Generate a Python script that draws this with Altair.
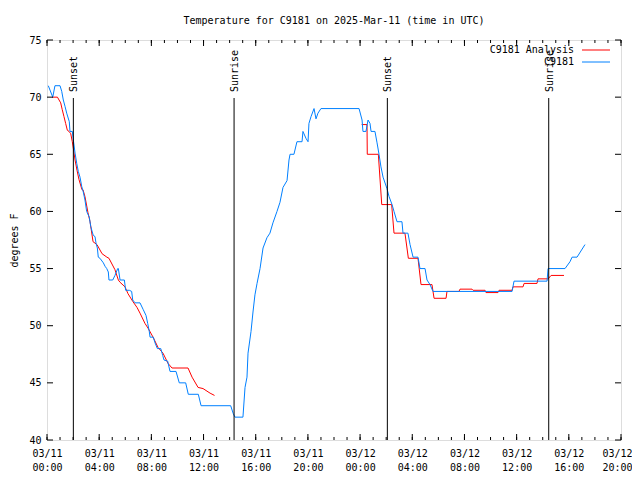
import altair as alt
import pandas as pd

# Observed (C9181) : hours since 03/11 00:00 UTC, temperature F
obs_hours = [0.10, 0.44, 0.61, 1.00, 1.13, 1.25, 1.38, 1.51, 1.71, 1.76, 1.94, 2.02, 2.15, 2.28, 2.40,
             2.53, 2.66, 2.78, 2.91, 3.04, 3.24, 3.35, 3.47, 3.55, 3.68, 3.76, 3.86, 3.93, 4.06, 4.32,
             4.45, 4.58, 4.70, 4.75, 5.04, 5.21, 5.42, 5.47, 5.60, 5.93, 6.03, 6.31, 6.49, 6.57, 6.75,
             7.13, 7.38, 7.59, 7.72, 7.84, 7.90, 8.15, 8.28, 8.46, 8.72, 8.87, 8.97, 9.25, 9.43, 9.89,
             10.14, 10.63, 10.83, 11.60, 11.81, 14.08, 14.28, 14.41, 15.02, 15.18, 15.33, 15.41, 15.64,
             15.79, 15.94, 16.10, 16.33, 16.56, 16.86, 17.09, 17.32, 17.63, 17.86, 18.09, 18.40, 18.55,
             18.63, 18.93, 19.16, 19.55, 19.62, 19.85, 20.01, 20.08, 20.24, 20.47, 20.62, 20.77, 21.00,
             23.92, 24.15, 24.22, 24.45, 24.61, 24.76, 24.84, 25.14, 25.30, 25.45, 25.60, 25.76, 26.06,
             26.22, 26.45, 26.60, 26.83, 27.21, 27.29, 27.67, 27.83, 28.06, 28.44, 28.59, 28.98, 29.13,
             29.36, 29.59, 35.65, 35.80, 38.33, 38.41, 39.71, 40.09, 40.25, 40.63, 41.24]
obs_temps = [71.0, 70.0, 71.0, 71.0, 70.5, 69.75, 69.2, 68.6, 67.85, 67.0, 67.0, 66.25, 65.1, 64.2, 63.5,
             63.0, 62.2, 61.7, 61.0, 60.0, 59.5, 58.7, 58.2, 57.9, 57.8, 57.2, 56.8, 56.0, 55.9, 55.5,
             55.2, 55.0, 54.7, 54.0, 54.0, 54.4, 55.0, 55.0, 54.0, 54.0, 53.1, 53.1, 53.0, 52.25, 52.0,
             52.0, 51.4, 50.9, 50.2, 49.5, 49.0, 49.0, 48.5, 48.0, 48.0, 47.4, 47.0, 46.9, 46.0, 46.0,
             45.0, 45.0, 44.0, 44.0, 43.0, 43.0, 42.3, 42.0, 42.0, 44.6, 45.5, 47.6, 49.5,
             51.2, 52.7, 53.7, 55.0, 56.8, 57.7, 58.1, 59.0, 60.0, 60.8, 62.1, 62.7, 64.5,
             65.0, 65.0, 66.1, 66.1, 67.0, 66.4, 66.1, 67.7, 68.3, 69.0, 68.1, 68.6, 69.0,
             69.0, 68.0, 67.0, 67.0, 68.0, 67.7, 67.0, 67.0, 66.0, 65.0, 63.9, 63.0, 62.0,
             61.3, 60.6, 60.0, 59.1, 59.1, 58.1, 58.1, 57.1, 56.0, 56.0, 55.0, 55.0, 54.0,
             53.6, 53.0, 53.0, 53.9, 53.9, 55.0, 55.0, 55.6, 56.0, 56.0, 57.1]

# Analysis (C9181 Analysis): two segments
ana_hours = [0.38, 0.80, 1.05, 1.17, 1.30, 1.43, 1.56, 1.69, 1.82, 1.94, 2.02, 2.15, 2.30, 2.45, 2.68,
             2.76, 2.91, 3.14, 3.30, 3.53, 3.83, 4.22, 4.59, 4.75, 4.98, 5.21, 5.47, 5.60, 5.98, 6.21,
             6.59, 6.90, 7.13, 7.51, 7.74, 8.13, 8.51, 8.89, 9.28, 9.58, 10.81, 11.12, 11.58, 11.96,
             12.50, 12.84,
             24.12, 24.53, 24.55, 25.40, 25.66, 26.42, 26.60, 27.44, 27.70, 28.44, 28.67, 29.51, 29.67,
             30.59, 30.66, 31.58, 31.66, 32.58, 32.66, 33.58, 33.65, 34.57, 34.65, 35.65, 35.72, 36.49,
             36.57, 37.56, 37.64, 38.41, 38.64, 39.63]
ana_temps = [70.0, 70.0, 69.5, 68.9, 68.3, 67.7, 67.1, 67.0, 66.8, 66.1, 65.5, 64.5, 63.6, 62.8, 61.9,
             61.9, 61.3, 59.9, 59.1, 57.35, 57.1, 56.3, 56.0, 55.9, 55.4, 54.9, 54.0, 53.8, 53.4, 52.8,
             52.1, 51.6, 51.1, 50.2, 49.8, 49.0, 48.1, 47.6, 46.7, 46.3, 46.3, 45.5, 44.6, 44.5,
             44.1, 43.9,
             67.6, 67.6, 65.0, 65.0, 60.6, 60.6, 58.1, 58.1, 55.9, 55.9, 53.6, 53.6, 52.4,
             52.4, 53.0, 53.0, 53.2, 53.2, 53.1, 53.1, 52.9, 52.9, 53.1, 53.1, 53.4, 53.4,
             53.7, 53.7, 54.1, 54.1, 54.4, 54.4]
ana_segments = [1] * 46 + [2] * 32

sun_hours = [2.02, 14.34, 26.09, 38.46]
sun_labels = ["Sunset", "Sunrise", "Sunset", "Sunrise"]

x_major = list(range(0, 45, 4))
x_minor = list(range(0, 45))
y_ticks = [40, 45, 50, 55, 60, 65, 70, 75]

legend_names = ["C9181 Analysis", "C9181"]
legend_colors = ["#ff0000", "#0080ff"]

FONT = "DejaVu Sans Mono"
W, H = 574, 400
RED, BLUE = legend_colors

obs = pd.DataFrame({"h": obs_hours, "t": obs_temps})
ana = pd.DataFrame({"h": ana_hours, "t": ana_temps, "seg": ana_segments})
sun = pd.DataFrame({"h": sun_hours, "label": sun_labels})
xmaj = pd.DataFrame({"h": x_major})
xmin = pd.DataFrame({"h": x_minor})
yt = pd.DataFrame({"t": y_ticks})

xs = alt.Scale(domain=[0, 44], nice=False, zero=False)
ys = alt.Scale(domain=[40, 75], nice=False, zero=False)

label_expr = ("[datum.value < 24 ? '03/11' : '03/12', "
              "(datum.value % 24 < 10 ? '0' : '') + (datum.value % 24) + ':00']")

x_axis = alt.Axis(values=x_major, labelExpr=label_expr, title=None, labelPadding=8,
                  labelLineHeight=14, labelFont=FONT, labelFontSize=10, labelColor="black",
                  labelOffset={"condition": {"test": "datum.value == 44", "value": -4}, "value": 0},
                  ticks=False, domain=False, grid=False, labelFlush=False, labelOverlap=False)
y_axis = alt.Axis(values=y_ticks, title="degrees F", titleFont=FONT, titleFontSize=10,
                  titleFontWeight="normal", titleColor="black", titlePadding=9,
                  labelFont=FONT, labelFontSize=10, labelColor="black", labelPadding=6,
                  ticks=False, domain=False, grid=False)

X = alt.X("h:Q", scale=xs, axis=x_axis)
Y = alt.Y("t:Q", scale=ys, axis=y_axis)

ana_line = alt.Chart(ana).mark_line(color=RED, strokeWidth=1, clip=True).encode(
    x=X, y=Y, detail="seg:N")
obs_line = alt.Chart(obs).mark_line(color=BLUE, strokeWidth=1, clip=True).encode(x=X, y=Y)

sun_rule = alt.Chart(sun).mark_rule(color="black", strokeWidth=1).encode(
    x=alt.X("h:Q", scale=xs), y=alt.value(58), y2=alt.value(H))
sun_text = alt.Chart(sun).mark_text(angle=270, align="left", baseline="middle", font=FONT,
                                    fontSize=10, color="black", dy=1).encode(
    x=alt.X("h:Q", scale=xs), y=alt.value(52), text="label:N")

tick_color = "black"
xmin_b = alt.Chart(xmin).mark_rule(color=tick_color).encode(
    x=alt.X("h:Q", scale=xs), y=alt.value(H), y2=alt.value(H - 3))
xmin_t = alt.Chart(xmin).mark_rule(color=tick_color).encode(
    x=alt.X("h:Q", scale=xs), y=alt.value(0), y2=alt.value(3))
xmaj_b = alt.Chart(xmaj).mark_rule(color=tick_color).encode(
    x=alt.X("h:Q", scale=xs), y=alt.value(H), y2=alt.value(H - 6))
xmaj_t = alt.Chart(xmaj).mark_rule(color=tick_color).encode(
    x=alt.X("h:Q", scale=xs), y=alt.value(0), y2=alt.value(6))
y_l = alt.Chart(yt).mark_rule(color=tick_color).encode(
    y=alt.Y("t:Q", scale=ys), x=alt.value(0), x2=alt.value(6))
y_r = alt.Chart(yt).mark_rule(color=tick_color).encode(
    y=alt.Y("t:Q", scale=ys), x=alt.value(W - 6), x2=alt.value(W))

leg_layers = []
for i, (name, col) in enumerate(zip(legend_names, legend_colors)):
    ldf = pd.DataFrame({"name": [name]})
    ypix = 10 + 12 * i
    leg_layers.append(alt.Chart(ldf).mark_text(align="right", baseline="middle", font=FONT,
                                               fontSize=10, color="black").encode(
        x=alt.value(527), y=alt.value(ypix), text="name:N"))
    leg_layers.append(alt.Chart(ldf).mark_rule(strokeWidth=1, color=col).encode(
        x=alt.value(535), x2=alt.value(563), y=alt.value(ypix)))

chart = alt.layer(
    ana_line, obs_line, sun_rule, sun_text,
    xmin_b, xmin_t, xmaj_b, xmaj_t, y_l, y_r,
    *leg_layers
).properties(
    width=W, height=H,
    title=alt.TitleParams("Temperature for C9181 on 2025-Mar-11 (time in UTC)", font=FONT,
                          fontSize=10, fontWeight="normal", anchor="middle", offset=9,
                          color="black"),
    autosize=alt.AutoSizeParams(type="none"),
    padding={"left": 39, "top": 32, "right": 11, "bottom": 32},
).configure_view(stroke="black", strokeWidth=1).configure(background="white")

chart.save("out.html", embed_options={"renderer": "svg", "actions": False})
